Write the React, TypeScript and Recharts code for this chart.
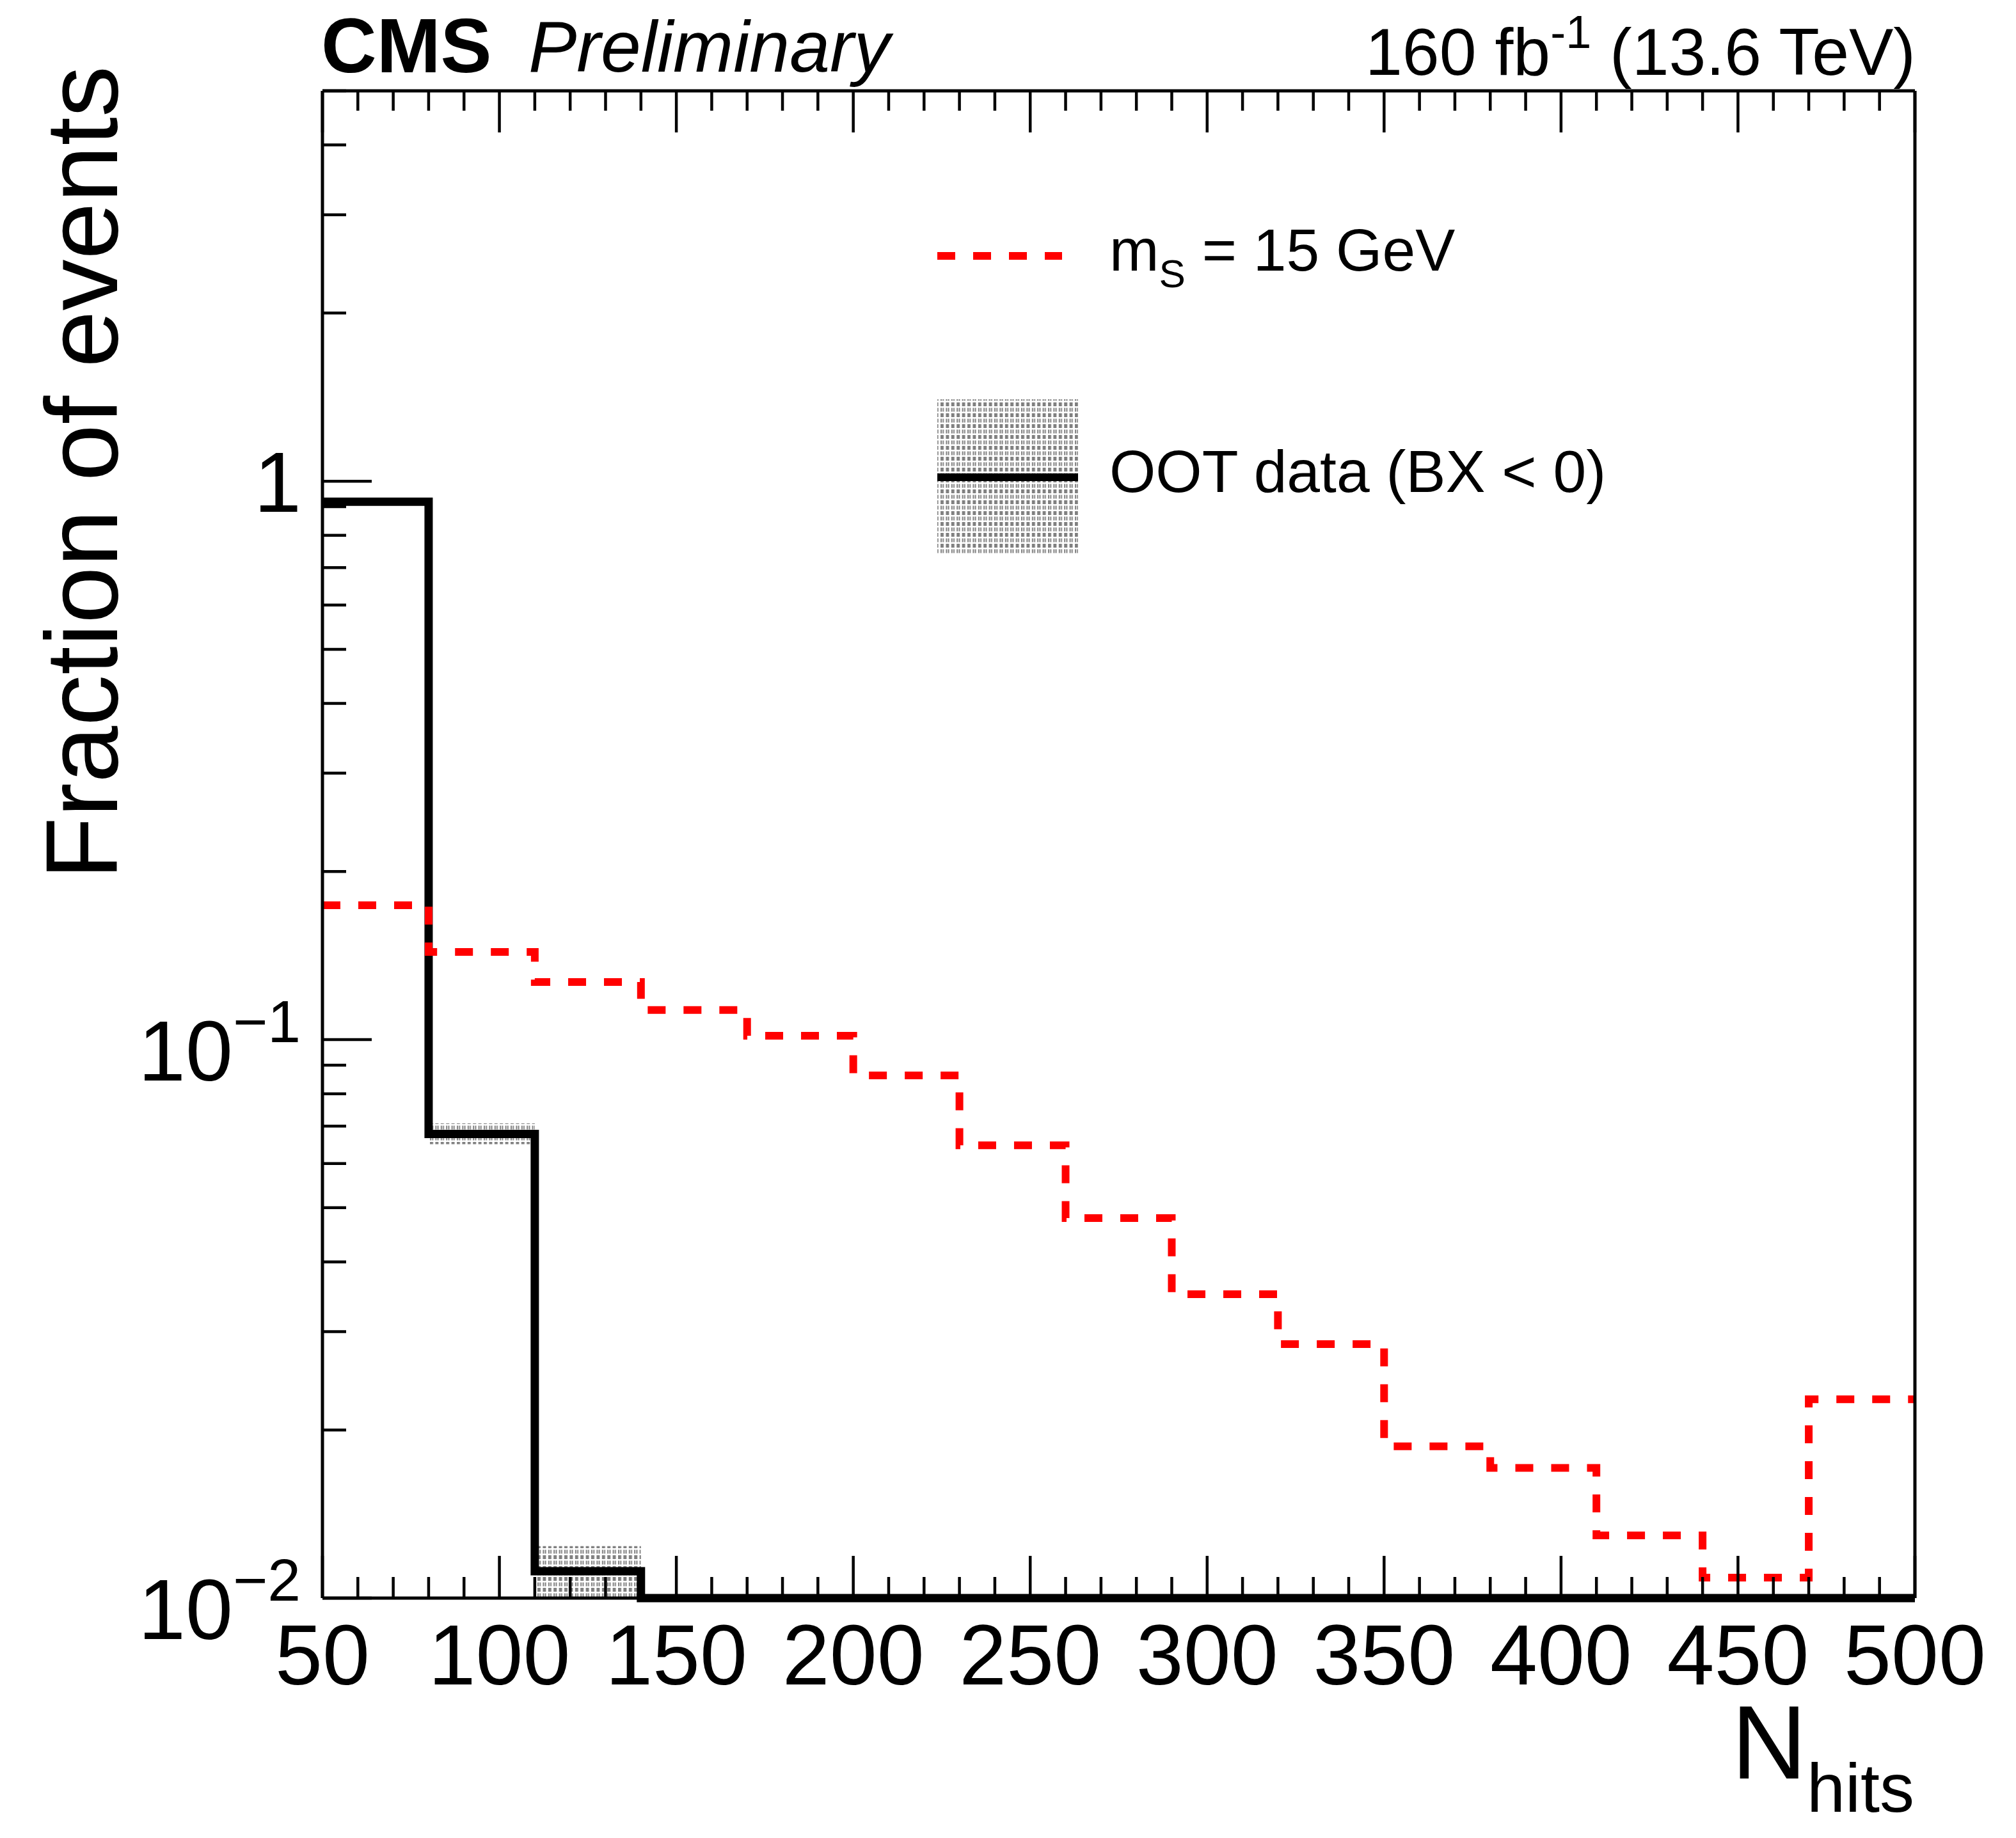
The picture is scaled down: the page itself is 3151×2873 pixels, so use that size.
import React from 'react';
import { ComposedChart, XAxis, YAxis, Line, Area } from 'recharts';

// histogram bin edges (N_hits), 30-hit bins
const BIN_EDGES = [50, 80, 110, 140, 170, 200, 230, 260, 290, 320, 350, 380, 410, 440, 470, 500];

// signal m_S = 15 GeV, fraction per bin
const SIGNAL_MS15 = [
  0.174, 0.1436, 0.1268, 0.113, 0.1016, 0.0863, 0.0647, 0.0479, 0.035, 0.0285, 0.0187, 0.0171,
  0.01295, 0.01088, 0.0227,
];

// OOT data (BX < 0), fraction per bin and its uncertainty band
const OOT_DATA = [0.919, 0.0678, 0.01117, 0, 0, 0, 0, 0, 0, 0, 0, 0, 0, 0, 0];
const OOT_ERR_LO = [0.911, 0.065, 0.0099, null, null, null, null, null, null, null, null, null, null, null, null];
const OOT_ERR_HI = [0.927, 0.0708, 0.01239, null, null, null, null, null, null, null, null, null, null, null, null];

const X_MAJOR = [50, 100, 150, 200, 250, 300, 350, 400, 450, 500];
const X_TICKS = [
  50, 60, 70, 80, 90, 100, 110, 120, 130, 140, 150, 160, 170, 180, 190, 200, 210, 220, 230, 240,
  250, 260, 270, 280, 290, 300, 310, 320, 330, 340, 350, 360, 370, 380, 390, 400, 410, 420, 430,
  440, 450, 460, 470, 480, 490, 500,
];
const Y_MAJOR = [0.01, 0.1, 1];
const Y_MAJOR_LABELS: [string, string][] = [
  ['10', '\u22122'],
  ['10', '\u22121'],
  ['1', ''],
];
const Y_TICKS = [
  0.01, 0.02, 0.03, 0.04, 0.05, 0.06, 0.07, 0.08, 0.09, 0.1, 0.2, 0.3, 0.4, 0.5, 0.6, 0.7, 0.8,
  0.9, 1, 2, 3, 4, 5,
];

const Y_MIN = 0.01;
const Y_MAX = 5;

const W = 3151;
const H = 2873;
const FONT = '"Liberation Sans", Arial, Helvetica, sans-serif';
const TICK_W = 4.5;

// bin values -> step points (last edge repeats the last bin so stepAfter closes it)
const rows = BIN_EDGES.map((x, i) => {
  const last = SIGNAL_MS15.length - 1;
  const bin = Math.min(i, last);
  let band: [number, number] | null = null;
  const bi = OOT_ERR_HI[i] != null ? i : i > 0 && OOT_ERR_HI[i - 1] != null ? i - 1 : -1;
  if (bi >= 0) {
    band = [Math.max(OOT_ERR_LO[bi] as number, Y_MIN), OOT_ERR_HI[bi] as number];
  }
  return {
    x,
    sig: Math.max(SIGNAL_MS15[bin], Y_MIN),
    oot: Math.max(OOT_DATA[bin], Y_MIN),
    band,
  };
});

function isMajorY(v: number) {
  return Y_MAJOR.findIndex((m) => Math.abs(m - v) < 1e-9);
}

function BottomTick(props: any) {
  const { x, y, payload } = props;
  const v = payload.value;
  const major = X_MAJOR.includes(v);
  return (
    <g>
      <line x1={x} x2={x} y1={y} y2={y - (major ? 66 : 33)} stroke="#000" strokeWidth={TICK_W} />
      {major ? (
        <text x={x} y={y + 135} textAnchor="middle" fontSize={133} fontFamily={FONT} fill="#000">
          {v}
        </text>
      ) : null}
    </g>
  );
}

function TopTick(props: any) {
  const { x, y, payload } = props;
  const major = X_MAJOR.includes(payload.value);
  return <line x1={x} x2={x} y1={y} y2={y + (major ? 65 : 31)} stroke="#000" strokeWidth={TICK_W} />;
}

function LeftTick(props: any) {
  const { x, y, payload } = props;
  const idx = isMajorY(payload.value);
  const major = idx >= 0;
  let label: React.ReactNode = null;
  if (major) {
    const [base, exp] = Y_MAJOR_LABELS[idx];
    label = exp ? (
      <text x={x - 34} y={y + 64} textAnchor="end" fontSize={133} fontFamily={FONT} fill="#000">
        {base}
        <tspan dy={-60} fontSize={93}>
          {exp}
        </tspan>
      </text>
    ) : (
      <text x={x - 33} y={y + 48} textAnchor="end" fontSize={133} fontFamily={FONT} fill="#000">
        {base}
      </text>
    );
  }
  return (
    <g>
      <line x1={x} x2={x + (major ? 77 : 37)} y1={y} y2={y} stroke="#000" strokeWidth={TICK_W} />
      {label}
    </g>
  );
}

function RightTick(props: any) {
  const { x, y, payload } = props;
  const major = isMajorY(payload.value) >= 0;
  return <line x1={x} x2={x - (major ? 77 : 38)} y1={y} y2={y} stroke="#000" strokeWidth={TICK_W} />;
}

const frameLine = { stroke: '#000', strokeWidth: 5 };

export default function App() {
  return (
    <div style={{ position: 'absolute', left: 0, top: 0, width: W, height: H, background: '#fff' }}>
      <svg width={0} height={0} style={{ position: 'absolute' }}>
        <defs>
          <pattern id="ootHatch" patternUnits="userSpaceOnUse" width={8.4} height={17}>
            <rect x={0} y={0} width={5} height={6} fill="#808080" />
            <rect x={0} y={8.5} width={2} height={6} fill="#808080" />
            <rect x={3.2} y={8.5} width={2} height={6} fill="#808080" />
          </pattern>
        </defs>
      </svg>

      <ComposedChart
        width={W}
        height={H}
        data={rows}
        margin={{ top: 141, right: 157, bottom: 374, left: 503 }}
      >
        <XAxis
          xAxisId="b"
          dataKey="x"
          type="number"
          domain={[50, 500]}
          ticks={X_TICKS}
          interval={0}
          height={1}
          tickSize={0}
          tickMargin={0}
          tickLine={false}
          axisLine={frameLine}
          tick={(p: any) => <BottomTick {...p} />}
        />
        <XAxis
          xAxisId="t"
          orientation="top"
          dataKey="x"
          type="number"
          domain={[50, 500]}
          ticks={X_TICKS}
          interval={0}
          height={1}
          tickSize={0}
          tickMargin={0}
          tickLine={false}
          axisLine={frameLine}
          tick={(p: any) => <TopTick {...p} />}
        />
        <YAxis
          yAxisId="l"
          type="number"
          scale="log"
          domain={[Y_MIN, Y_MAX]}
          ticks={Y_TICKS}
          interval={0}
          width={1}
          tickSize={0}
          tickMargin={0}
          tickLine={false}
          axisLine={frameLine}
          tick={(p: any) => <LeftTick {...p} />}
        />
        <YAxis
          yAxisId="r"
          orientation="right"
          type="number"
          scale="log"
          domain={[Y_MIN, Y_MAX]}
          ticks={Y_TICKS}
          interval={0}
          width={1}
          tickSize={0}
          tickMargin={0}
          tickLine={false}
          axisLine={frameLine}
          tick={(p: any) => <RightTick {...p} />}
        />

        <Area
          xAxisId="b"
          yAxisId="l"
          dataKey="band"
          type="stepAfter"
          stroke="none"
          fill="url(#ootHatch)"
          fillOpacity={1}
          dot={false}
          activeDot={false}
          isAnimationActive={false}
        />
        <Line
          xAxisId="b"
          yAxisId="l"
          dataKey="oot"
          type="stepAfter"
          stroke="#000"
          strokeWidth={13}
          strokeLinejoin="miter"
          dot={false}
          activeDot={false}
          isAnimationActive={false}
        />
        <Line
          xAxisId="b"
          yAxisId="l"
          dataKey="sig"
          type="stepAfter"
          stroke="#ff0000"
          strokeWidth={12}
          strokeDasharray="28 28"
          strokeLinejoin="miter"
          dot={false}
          activeDot={false}
          isAnimationActive={false}
        />
      </ComposedChart>

      <svg
        width={W}
        height={H}
        style={{ position: 'absolute', left: 0, top: 0, pointerEvents: 'none' }}
        fontFamily={FONT}
      >
        <text x={502} y={113} fontSize={120} fontWeight="bold" fill="#000">
          CMS
        </text>
        <text x={826} y={112} fontSize={113} fontStyle="italic" fill="#000">
          Preliminary
        </text>
        <text x={2994} y={117} fontSize={104} textAnchor="end" fill="#000">
          160 fb
          <tspan dy={-42} fontSize={72}>
            -1
          </tspan>
          <tspan dy={42}> (13.6 TeV)</tspan>
        </text>

        {/* y title */}
        <text
          transform="translate(183,103) rotate(-90)"
          fontSize={160}
          textAnchor="end"
          fill="#000"
        >
          Fraction of events
        </text>

        {/* x title */}
        <text x={2992} y={2780} fontSize={163} textAnchor="end" fill="#000">
          N
          <tspan dy={52} fontSize={108}>
            hits
          </tspan>
        </text>

        {/* legend */}
        <line x1={1465} x2={1660} y1={400} y2={400} stroke="#ff0000" strokeWidth={12} strokeDasharray="28 28" />
        <text x={1734} y={423} fontSize={93} fill="#000">
          m
          <tspan dy={26} fontSize={62}>
            S
          </tspan>
          <tspan dy={-26}> = 15 GeV</tspan>
        </text>
        <rect x={1465} y={624} width={220} height={242} fill="url(#ootHatch)" />
        <line x1={1465} x2={1685} y1={746} y2={746} stroke="#000" strokeWidth={12} />
        <text x={1734} y={769} fontSize={93} fill="#000">
          OOT data (BX &lt; 0)
        </text>
      </svg>
    </div>
  );
}
